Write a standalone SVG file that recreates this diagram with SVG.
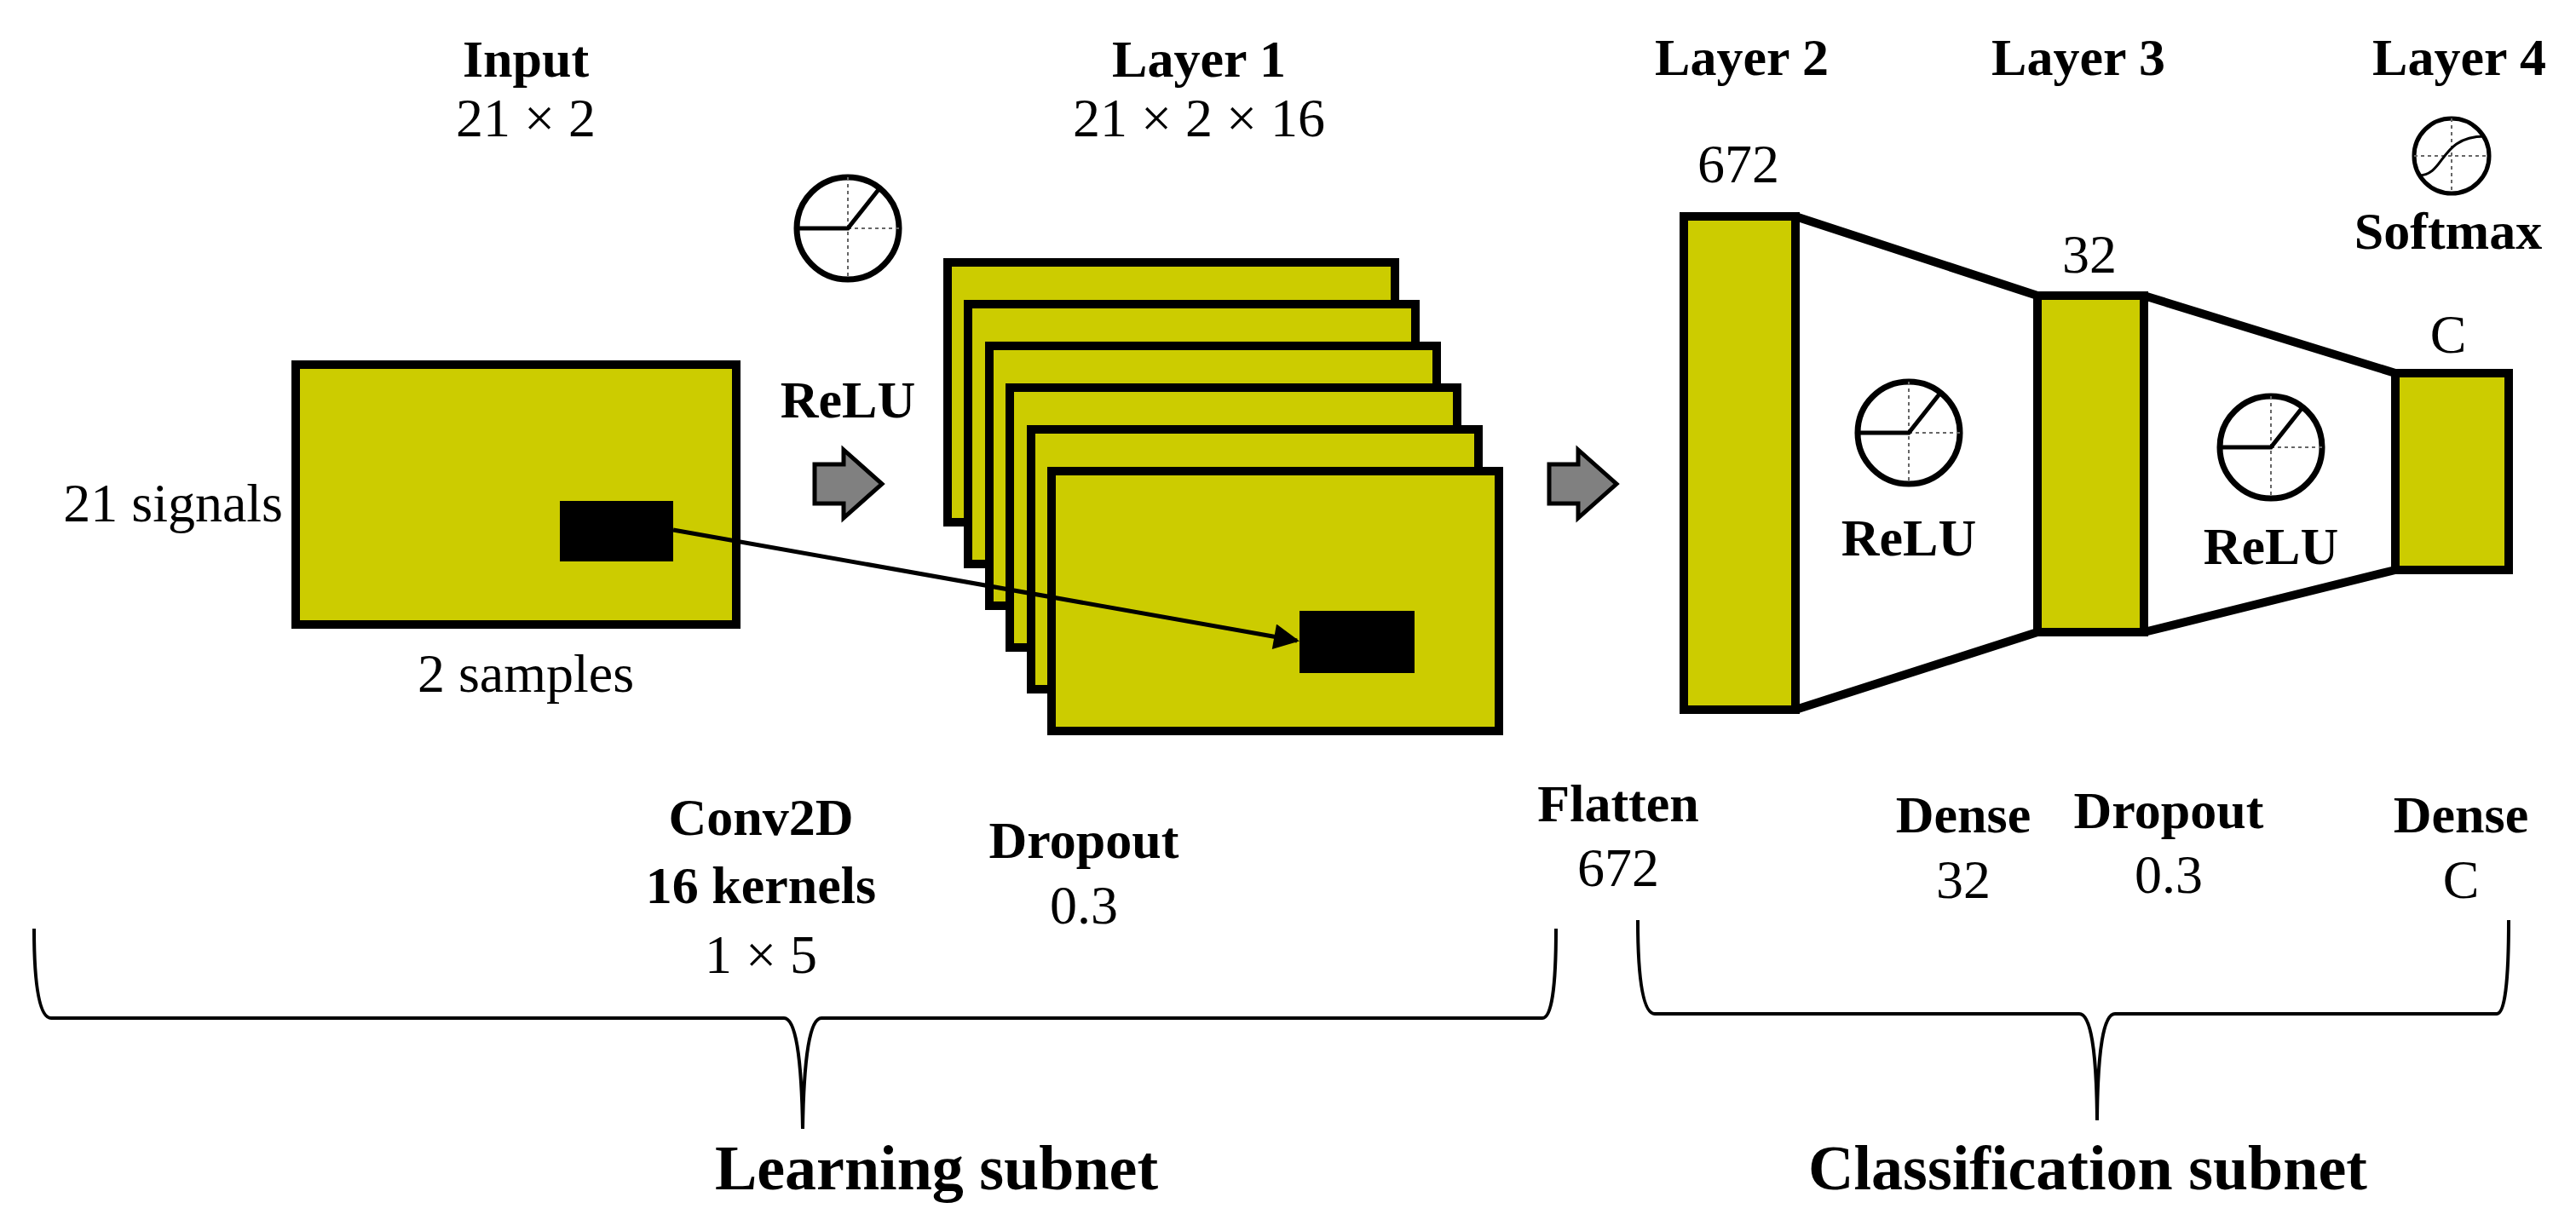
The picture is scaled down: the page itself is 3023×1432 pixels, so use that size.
<svg xmlns="http://www.w3.org/2000/svg" width="3023" height="1432" viewBox="0 0 3023 1432">
<defs>
<style>
text{font-family:"Liberation Serif","DejaVu Serif",serif;fill:#000;text-anchor:middle}
.b{font-weight:bold;font-size:62px}
.r{font-size:64px}
.big{font-weight:bold;font-size:74px}
.box{fill:#cccc00;stroke:#000;stroke-width:10}
.blk{fill:#000}
.circ{fill:#fff;stroke:#000;stroke-width:7}
.dot{stroke:#666;stroke-width:2;stroke-dasharray:4 4;fill:none}
.fn{stroke:#000;stroke-width:5;fill:none}
.ga{fill:#808080;stroke:#000;stroke-width:5}
.brace{fill:none;stroke:#000;stroke-width:4}
</style>
<marker id="ah" viewBox="0 0 10 10" refX="9" refY="5" markerWidth="7" markerHeight="6" orient="auto"><path d="M0,0L10,5L0,10z" fill="#000"/></marker>
<g id="relu"><circle r="60" class="circ"/><path class="dot" d="M0,-60V60M0,0H60"/><path class="fn" d="M-60,0H0L38,-48"/></g>
</defs>
<g id="input">
<text class="b" x="617" y="90">Input</text>
<text class="r" x="617" y="160">21 × 2</text>
<rect class="box" x="347" y="428" width="517" height="305"/>
<rect class="blk" x="657" y="588" width="133" height="71"/>
<text class="r" x="332" y="612" style="text-anchor:end">21 signals</text>
<text class="r" x="617" y="812">2 samples</text>
</g>
<g id="relu1"><use href="#relu" x="995" y="268"/><text class="b" x="995" y="490">ReLU</text></g>
<g id="layer1">
<text class="b" x="1407" y="90">Layer 1</text>
<text class="r" x="1407" y="160">21 × 2 × 16</text>
<rect class="box" x="1112" y="308" width="525" height="305"/>
<rect class="box" x="1136" y="357" width="525" height="305"/>
<rect class="box" x="1161" y="406" width="525" height="305"/>
<rect class="box" x="1185" y="455" width="525" height="305"/>
<rect class="box" x="1210" y="504" width="525" height="305"/>
<rect class="box" x="1234" y="553" width="525" height="305"/>
<rect class="blk" x="1525" y="717" width="135" height="73"/>
</g>
<g id="layer2">
<text class="b" x="2044" y="88">Layer 2</text>
<text class="r" x="2040" y="214">672</text>
<path d="M2107,254L2391,347V742L2107,833Z" fill="#fff" stroke="#000" stroke-width="10" stroke-linejoin="round"/>
<path d="M2516,347L2811,438V669L2516,742Z" fill="#fff" stroke="#000" stroke-width="10" stroke-linejoin="round"/>
<rect class="box" x="1976" y="254" width="131" height="579"/>
</g>
<g id="relu2"><use href="#relu" x="2240" y="508"/><text class="b" x="2240" y="652">ReLU</text></g>
<g id="layer3">
<text class="b" x="2439" y="88">Layer 3</text>
<text class="r" x="2452" y="320">32</text>
<rect class="box" x="2391" y="347" width="125" height="395"/>
</g>
<g id="relu3"><use href="#relu" x="2665" y="525"/><text class="b" x="2665" y="662">ReLU</text></g>
<g id="layer4">
<text class="b" x="2886" y="88">Layer 4</text>
<circle cx="2877" cy="183" r="44" class="circ" style="stroke-width:5"/>
<path class="dot" d="M2877,139V227M2833,183H2921"/>
<path class="fn" style="stroke-width:3" d="M2838,206C2870,206 2862,160 2916,160"/>
<text class="b" x="2873" y="292">Softmax</text>
<text class="r" x="2873" y="414">C</text>
<rect class="box" x="2811" y="438" width="133" height="231"/>
</g>
<g id="connectors">
<line x1="790" y1="622" x2="1522" y2="752" stroke="#000" stroke-width="5" marker-end="url(#ah)"/>
<path class="ga" d="M956,545H990V528L1035,568L990,608V591H956Z"/>
<path class="ga" d="M1818,545H1852V528L1897,568L1852,608V591H1818Z"/>
</g>
<g id="labels">
<text class="b" x="893" y="980">Conv2D</text>
<text class="b" x="893" y="1060">16 kernels</text>
<text class="r" x="893" y="1142">1 × 5</text>
<text class="b" x="1272" y="1007">Dropout</text>
<text class="r" x="1272" y="1084">0.3</text>
<text class="b" x="1899" y="964">Flatten</text>
<text class="r" x="1899" y="1040">672</text>
<text class="b" x="2304" y="977">Dense</text>
<text class="r" x="2304" y="1054">32</text>
<text class="b" x="2545" y="972">Dropout</text>
<text class="r" x="2545" y="1048">0.3</text>
<text class="b" x="2888" y="977">Dense</text>
<text class="r" x="2888" y="1054">C</text>
</g>
<g id="braces">
<path class="brace" d="M40,1090Q40,1195 60,1195H920Q940,1195 942,1325Q944,1195 964,1195H1810Q1826,1195 1826,1090"/>
<path class="brace" d="M1922,1080Q1922,1190 1942,1190H2440Q2460,1190 2461,1315Q2462,1190 2482,1190H2930Q2944,1190 2944,1080"/>
</g>
<g id="subnets">
<text class="big" x="1099" y="1396">Learning subnet</text>
<text class="big" x="2450" y="1396">Classification subnet</text>
</g>
</svg>
